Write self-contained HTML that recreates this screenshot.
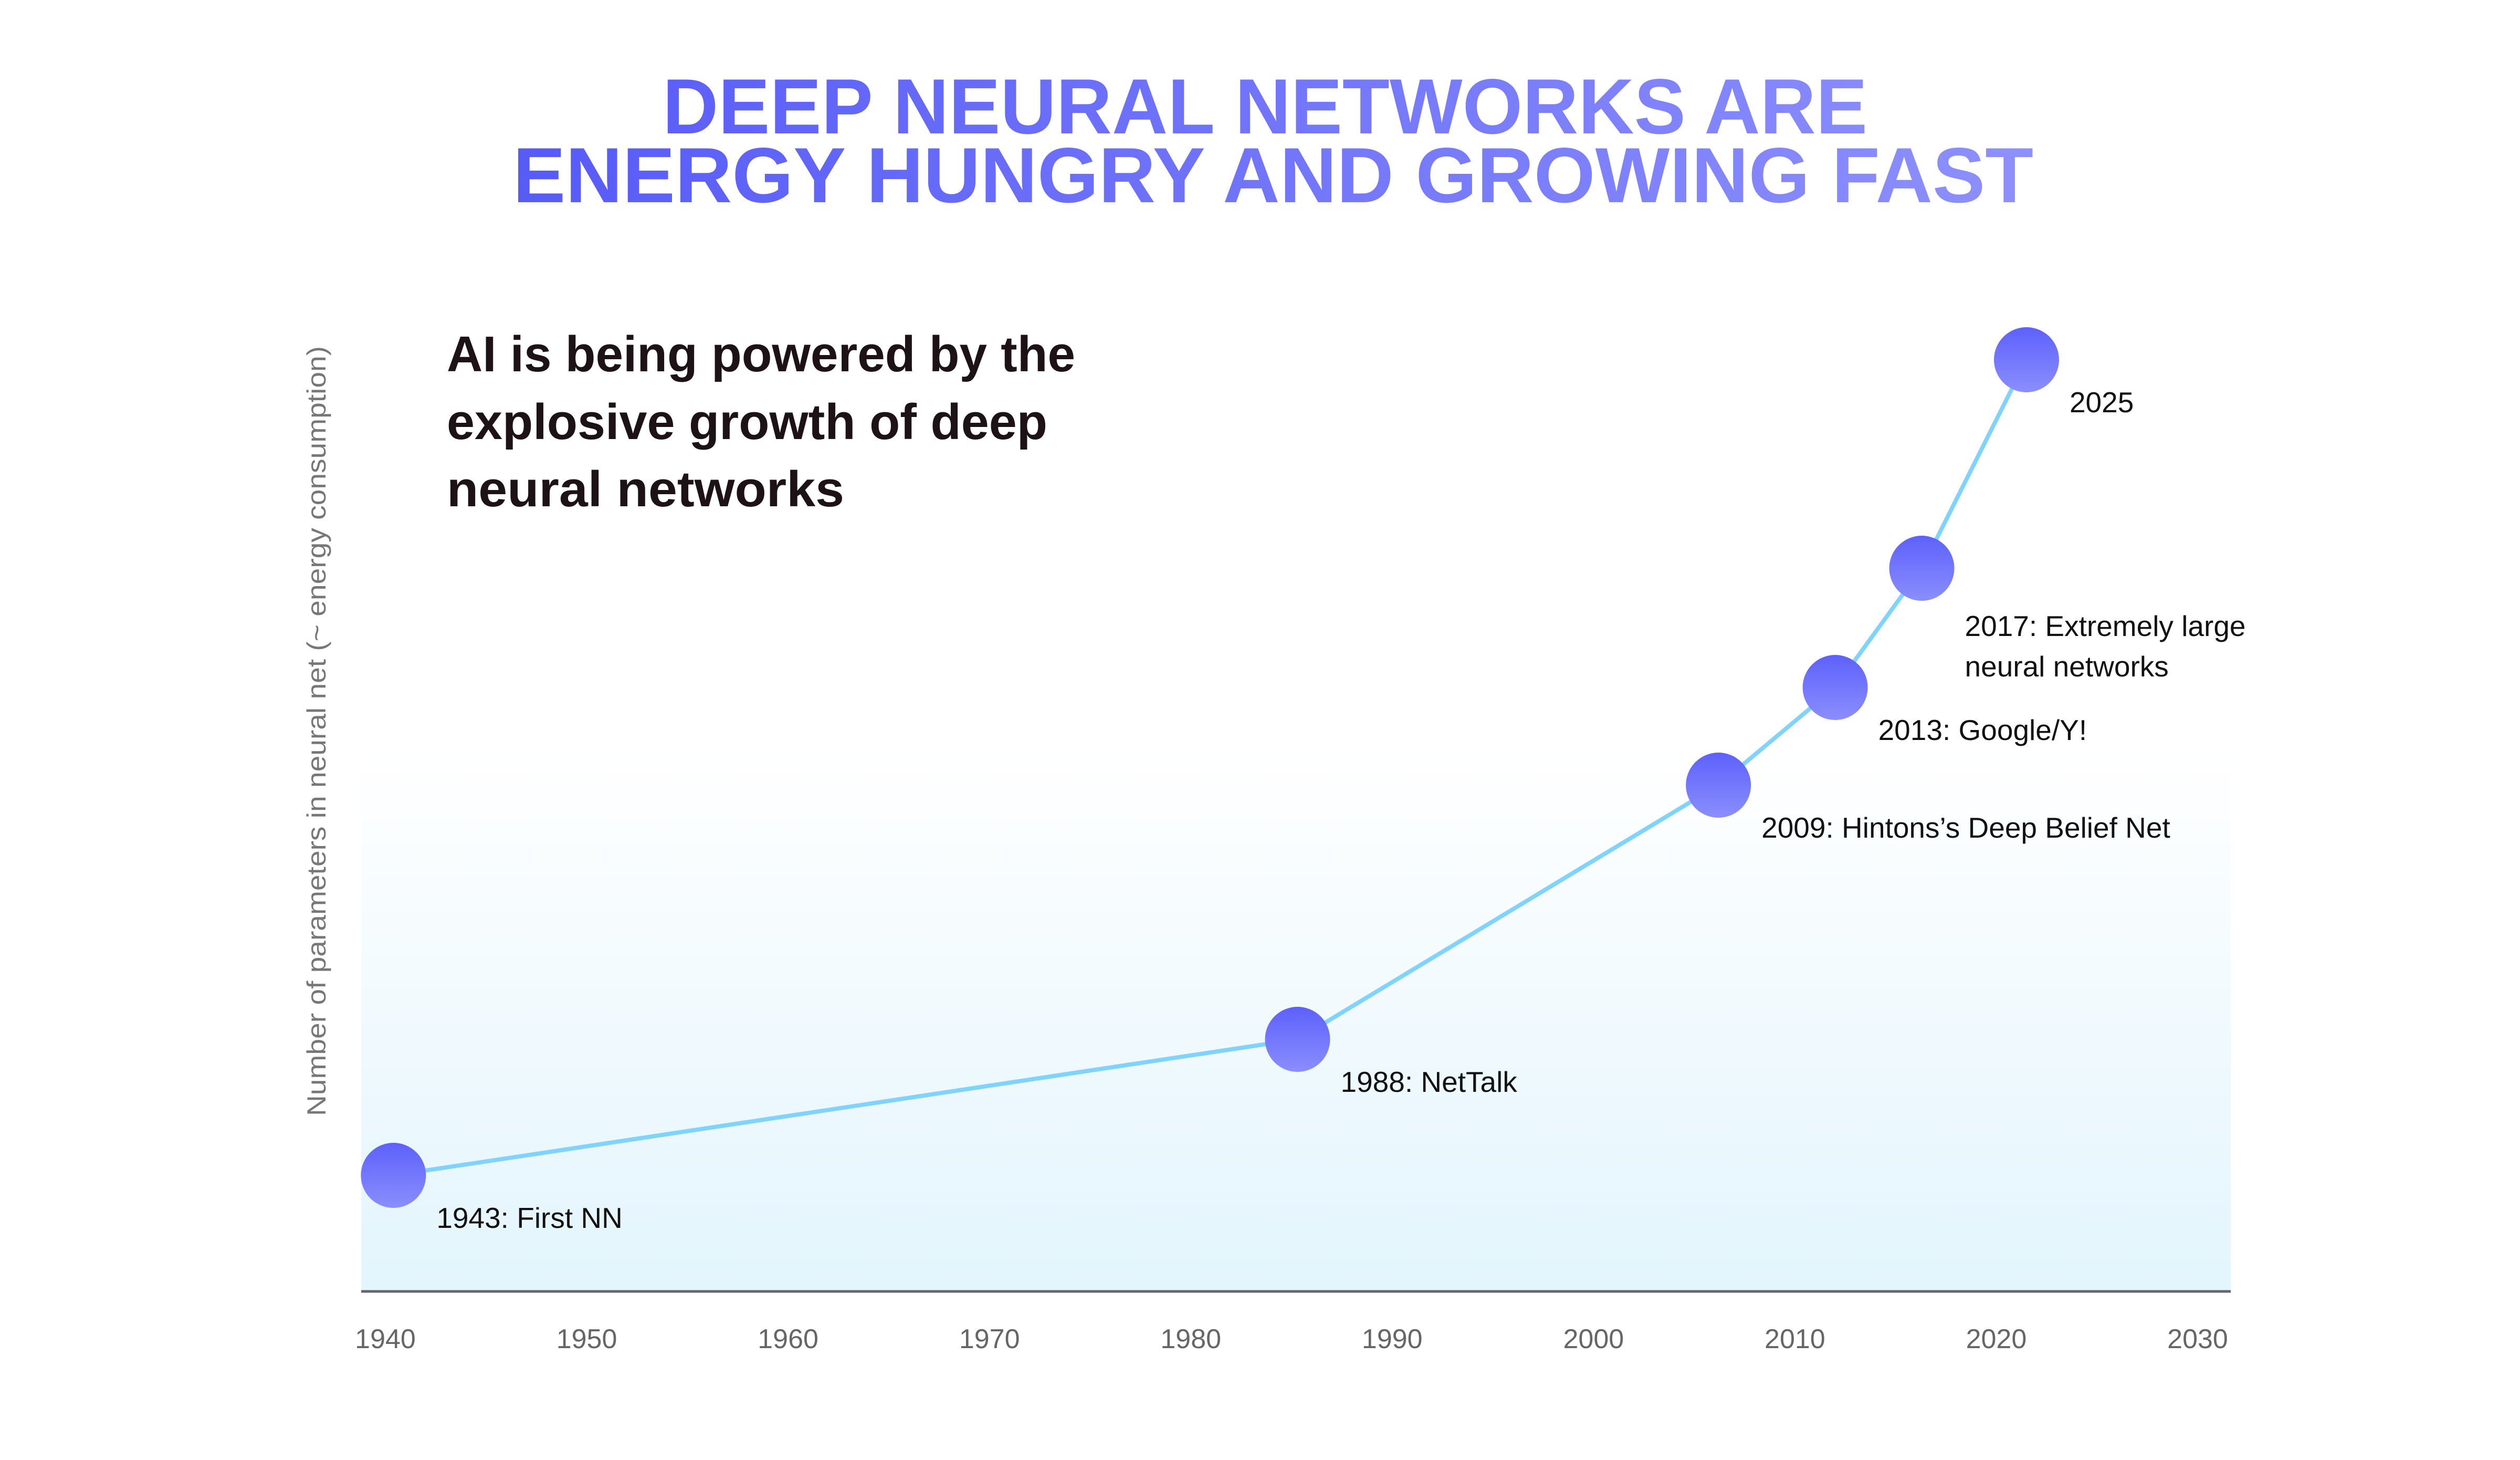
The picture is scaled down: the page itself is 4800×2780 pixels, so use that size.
<!DOCTYPE html>
<html><head><meta charset="utf-8"><style>
html,body{margin:0;padding:0;background:#fff;}
svg{display:block;}
text{font-family:"Liberation Sans",sans-serif;}
</style></head><body>
<svg id="chart" width="4800" height="2780" viewBox="0 0 4800 2780" xmlns="http://www.w3.org/2000/svg">
<defs>
<linearGradient id="titleGrad" gradientUnits="userSpaceOnUse" x1="977" y1="0" x2="3873" y2="0">
<stop offset="0" stop-color="#575bf7"/><stop offset="1" stop-color="#8d90fc"/></linearGradient>
<linearGradient id="bgGrad" x1="0" y1="0" x2="0" y2="1">
<stop offset="0" stop-color="#ffffff"/><stop offset="1" stop-color="#e3f5fd"/></linearGradient>
<linearGradient id="dotGrad" x1="0" y1="0" x2="0" y2="1">
<stop offset="0" stop-color="#5d61fb"/><stop offset="1" stop-color="#8a8efd"/></linearGradient>
</defs>
<g fill="url(#titleGrad)" font-weight="bold" font-size="149" text-anchor="start">
<text x="1262" y="254" textLength="2295" lengthAdjust="spacingAndGlyphs">DEEP NEURAL NETWORKS ARE</text>
<text x="977" y="385" textLength="2896" lengthAdjust="spacingAndGlyphs">ENERGY HUNGRY AND GROWING FAST</text>
</g>
<g fill="#1d1215" font-weight="bold" font-size="96">
<text x="851" y="707" textLength="1197" lengthAdjust="spacingAndGlyphs">AI is being powered by the</text>
<text x="851" y="836" textLength="1144" lengthAdjust="spacingAndGlyphs">explosive growth of deep</text>
<text x="851" y="964" textLength="757" lengthAdjust="spacingAndGlyphs">neural networks</text>
</g>
<rect x="688" y="1426" width="3561" height="1033" fill="url(#bgGrad)"/>
<text transform="translate(620,1392) rotate(-90)" text-anchor="middle" font-size="50" fill="#777" textLength="1466" lengthAdjust="spacingAndGlyphs">Number of parameters in neural net (~ energy consumption)</text>
<line x1="688" y1="2459" x2="4249" y2="2459" stroke="#666" stroke-width="5"/>
<g id="ticks"></g>
<g id="series"></g>
</svg>
<script>
const tickYears = [1940,1950,1960,1970,1980,1990,2000,2010,2020,2030];
const pointYears = [1940.4,1985.3,2006.2,2012.0,2016.3,2021.5];
const pointValues = [11.05,24.0,48.2,57.5,68.85,88.7];
const pointLabels = [["1943: First NN"],["1988: NetTalk"],["2009: Hintons\u2019s Deep Belief Net"],["2013: Google/Y!"],["2017: Extremely large","neural networks"],["2025"]];

const NS = "http://www.w3.org/2000/svg";
function xScale(y){ return 734 + (y-1940)*(4186-734)/90; }
function yScale(v){ return 2459 - v*20; }

const ticks = document.getElementById('ticks');
tickYears.forEach(function(t){
  const tx = document.createElementNS(NS,'text');
  
  
  tx.setAttribute('x', xScale(t));
  tx.setAttribute('y', 2567);
  tx.setAttribute('text-anchor','middle');
  tx.setAttribute('font-size','52');
  tx.setAttribute('fill','#666');
  tx.textContent = t;
  ticks.appendChild(tx);
});

const series = document.getElementById('series');
const line = document.createElementNS(NS,'polyline');


line.setAttribute('points', pointYears.map(function(y,i){return xScale(y)+','+yScale(pointValues[i]);}).join(' '));
line.setAttribute('fill','none');
line.setAttribute('stroke','#7fd3fc');
line.setAttribute('stroke-width','8');
line.setAttribute('stroke-linejoin','round');
series.appendChild(line);

pointYears.forEach(function(y,i){
  const cx = xScale(y), cy = yScale(pointValues[i]);
  const c = document.createElementNS(NS,'circle');
  
  
  c.setAttribute('cx', cx);
  c.setAttribute('cy', cy);
  c.setAttribute('r', 62);
  c.setAttribute('fill','url(#dotGrad)');
  series.appendChild(c);
  const lines = pointLabels[i];
  const dy = lines.length > 1 ? 129 : 100;
  lines.forEach(function(s,j){
    const t = document.createElementNS(NS,'text');
    
    
    t.setAttribute('x', cx + 82);
    t.setAttribute('y', cy + dy + j*77);
    t.setAttribute('font-size','55');
    t.setAttribute('fill','#111');
    t.textContent = s;
    series.appendChild(t);
  });
});
</script>
</body></html>
